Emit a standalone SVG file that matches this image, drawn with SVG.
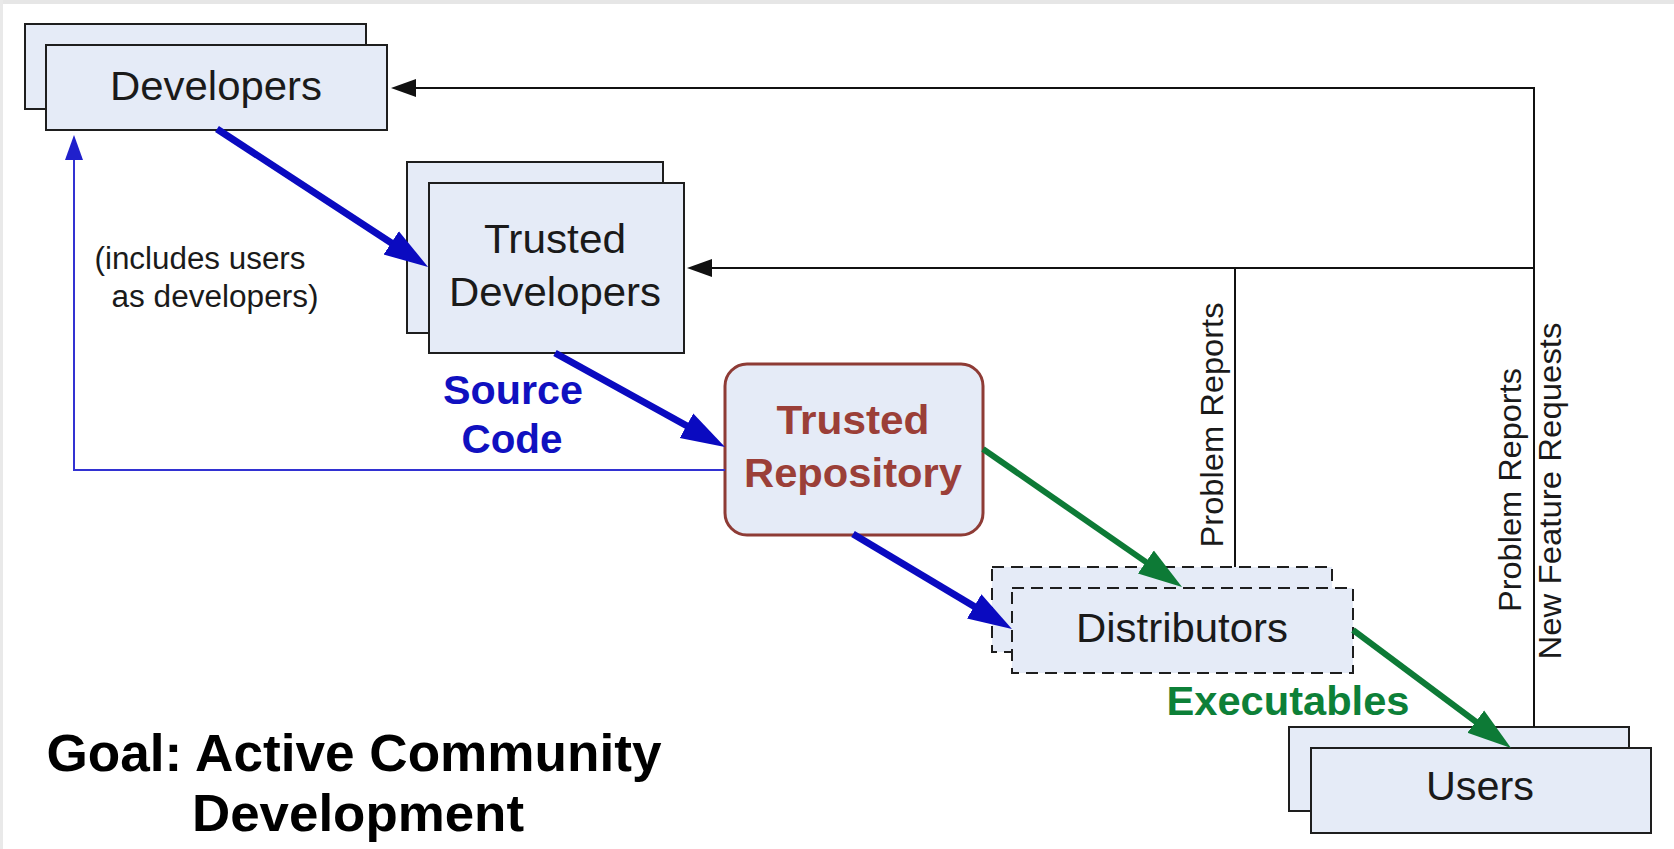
<svg xmlns="http://www.w3.org/2000/svg" width="1674" height="849" viewBox="0 0 1674 849">
<style>
.box{fill:#e5ebf7;stroke:#1e1e1e;stroke-width:2}
.dash{fill:#e5ebf7;stroke:#1e1e1e;stroke-width:2;stroke-dasharray:12 7}
.lbl{font-family:"Liberation Sans",Arial,sans-serif;fill:#1a1a1a;text-anchor:middle}
.b{font-weight:bold}
.thick-blue{stroke:#0a0ac0;stroke-width:7;fill:none}
.thick-green{stroke:#0d7a36;stroke-width:6;fill:none}
.thin-black{stroke:#111;stroke-width:2;fill:none}
.thin-blue{stroke:#3232d2;stroke-width:2;fill:none}
</style>
<defs>
<marker id="hBlue" markerUnits="userSpaceOnUse" markerWidth="44" markerHeight="32" viewBox="0 0 44 32" refX="24" refY="16" orient="auto"><path d="M0,2 L44,16 L0,30 z" fill="#0a0ac0"/></marker>
<marker id="hGreen" markerUnits="userSpaceOnUse" markerWidth="44" markerHeight="32" viewBox="0 0 44 32" refX="24" refY="16" orient="auto"><path d="M0,2 L44,16 L0,30 z" fill="#0d7a36"/></marker>
<marker id="hBlack" markerUnits="userSpaceOnUse" markerWidth="26" markerHeight="20" viewBox="0 0 26 20" refX="14" refY="10" orient="auto"><path d="M0,1 L25,10 L0,19 z" fill="#111"/></marker>
<marker id="hThinBlue" markerUnits="userSpaceOnUse" markerWidth="26" markerHeight="20" viewBox="0 0 26 20" refX="14" refY="10" orient="auto"><path d="M0,1 L25,10 L0,19 z" fill="#2020cc"/></marker>
</defs>
<rect x="0" y="0" width="1674" height="849" fill="#ffffff"/>
<rect x="0" y="0" width="1674" height="4" fill="#e6e6e6"/>
<rect x="0" y="0" width="3" height="849" fill="#e9e9e9"/>

<g id="developers">
<rect class="box" x="25" y="24" width="341" height="85"/>
<rect class="box" x="46" y="45" width="341" height="85"/>
<text class="lbl" x="216" y="100" font-size="41" textLength="212" lengthAdjust="spacingAndGlyphs">Developers</text>
</g>

<g id="trusted-developers">
<rect class="box" x="407" y="162" width="256" height="171"/>
<rect class="box" x="429" y="183" width="255" height="170"/>
<text class="lbl" x="555" y="253" font-size="41" textLength="142" lengthAdjust="spacingAndGlyphs">Trusted</text>
<text class="lbl" x="555" y="306" font-size="41" textLength="212" lengthAdjust="spacingAndGlyphs">Developers</text>
</g>

<g id="trusted-repository">
<rect x="725" y="364" width="258" height="171" rx="22" ry="22" fill="#e5ebf7" stroke="#8e3b35" stroke-width="3"/>
<text class="lbl b" x="853" y="434" font-size="41" style="fill:#9b3f38" textLength="153" lengthAdjust="spacingAndGlyphs">Trusted</text>
<text class="lbl b" x="853" y="487" font-size="41" style="fill:#9b3f38" textLength="218" lengthAdjust="spacingAndGlyphs">Repository</text>
</g>

<g id="distributors">
<rect class="dash" x="992" y="567" width="340" height="85"/>
<rect class="dash" x="1012" y="588" width="341" height="85"/>
<text class="lbl" x="1182" y="642" font-size="41" textLength="212" lengthAdjust="spacingAndGlyphs">Distributors</text>
</g>

<g id="users">
<rect class="box" x="1289" y="727" width="340" height="84"/>
<rect class="box" x="1311" y="748" width="340" height="85"/>
<text class="lbl" x="1480" y="800" font-size="41" textLength="108" lengthAdjust="spacingAndGlyphs">Users</text>
</g>

<g id="connectors">
<polyline class="thin-blue" points="725,470 74,470 74,146" marker-end="url(#hThinBlue)"/>
<polyline class="thin-black" points="1534,727 1534,88 402,88" marker-end="url(#hBlack)"/>
<polyline class="thin-black" points="1534,268 698,268" marker-end="url(#hBlack)"/>
<line class="thin-black" x1="1235" y1="268" x2="1235" y2="567"/>
<line class="thick-blue" x1="217" y1="129" x2="411.3" y2="256" marker-end="url(#hBlue)"/>
<line class="thick-blue" x1="555" y1="353" x2="707.5" y2="437.3" marker-end="url(#hBlue)"/>
<line class="thick-blue" x1="853" y1="534" x2="994.8" y2="618.7" marker-end="url(#hBlue)"/>
<line class="thick-green" x1="983" y1="449" x2="1165.6" y2="575.6" marker-end="url(#hGreen)"/>
<line class="thick-green" x1="1353" y1="630" x2="1495" y2="736" marker-end="url(#hGreen)"/>
</g>

<g id="labels">
<text class="lbl" x="200" y="269" font-size="31" textLength="211" lengthAdjust="spacingAndGlyphs">(includes users</text>
<text class="lbl" x="215" y="307" font-size="31" textLength="207" lengthAdjust="spacingAndGlyphs">as developers)</text>
<text class="lbl b" x="513" y="404" font-size="41" style="fill:#1010c0" textLength="140" lengthAdjust="spacingAndGlyphs">Source</text>
<text class="lbl b" x="512" y="453" font-size="41" style="fill:#1010c0" textLength="101" lengthAdjust="spacingAndGlyphs">Code</text>
<text class="lbl b" x="1288" y="715" font-size="41" style="fill:#0d8038" textLength="243" lengthAdjust="spacingAndGlyphs">Executables</text>
<text class="lbl" transform="translate(1223,425) rotate(-90)" font-size="32" textLength="245" lengthAdjust="spacingAndGlyphs">Problem Reports</text>
<text class="lbl" transform="translate(1521,490) rotate(-90)" font-size="32" textLength="244" lengthAdjust="spacingAndGlyphs">Problem Reports</text>
<text class="lbl" transform="translate(1561,491) rotate(-90)" font-size="32" textLength="337" lengthAdjust="spacingAndGlyphs">New Feature Requests</text>
<text class="lbl b" x="354" y="771" font-size="51" style="fill:#000" textLength="615" lengthAdjust="spacingAndGlyphs">Goal: Active Community</text>
<text class="lbl b" x="358" y="831" font-size="52" style="fill:#000" textLength="332" lengthAdjust="spacingAndGlyphs">Development</text>
</g>
</svg>
